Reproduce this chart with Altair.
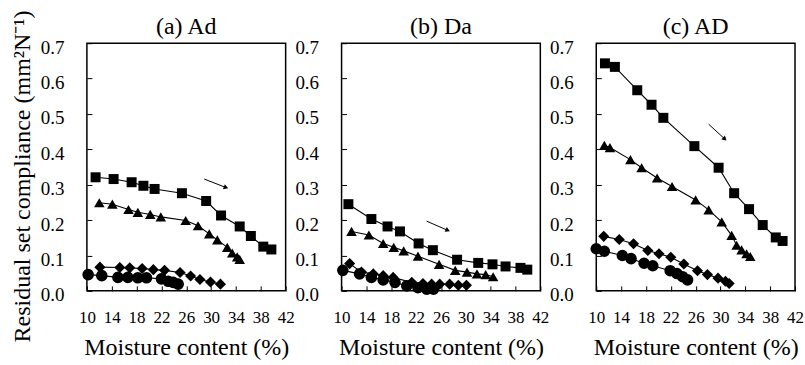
import math
import altair as alt
import pandas as pd

FONT = "Liberation Serif"

panel_titles = ["(a) Ad", "(b) Da", "(c) AD"]
series_names = ["sq", "tri", "dia", "cir"]

# ---- panel (a) Ad ----
a_sq_x = [11.4, 14.3, 17.2, 19.1, 20.9, 25.3, 29.2, 31.6, 34.6, 36.4, 38.4, 39.7]
a_sq_y = [0.321, 0.316, 0.307, 0.297, 0.288, 0.276, 0.254, 0.213, 0.182, 0.155, 0.125, 0.117]
a_tri_x = [12.0, 14.1, 16.7, 18.2, 20.2, 21.9, 25.9, 27.9, 29.7, 31.0, 32.6, 33.4, 34.2, 34.6]
a_tri_y = [0.249, 0.245, 0.230, 0.222, 0.216, 0.209, 0.199, 0.184, 0.161, 0.144, 0.123, 0.107, 0.096, 0.089]
a_dia_x = [12.1, 15.3, 16.9, 18.9, 20.7, 22.5, 25.0, 26.7, 28.2, 29.9, 31.5]
a_dia_y = [0.067, 0.066, 0.065, 0.063, 0.060, 0.058, 0.052, 0.042, 0.032, 0.025, 0.019]
a_cir_x = [10.2, 12.4, 15.0, 16.6, 18.2, 19.6, 22.0, 23.1, 23.9, 24.7]
a_cir_y = [0.046, 0.043, 0.038, 0.038, 0.037, 0.037, 0.034, 0.027, 0.024, 0.019]

# ---- panel (b) Da ----
b_sq_x = [11.1, 14.8, 17.4, 19.4, 22.4, 24.7, 28.6, 32.0, 34.3, 36.4, 38.8, 39.9]
b_sq_y = [0.245, 0.203, 0.182, 0.168, 0.134, 0.115, 0.088, 0.079, 0.075, 0.069, 0.065, 0.060]
b_tri_x = [11.6, 14.4, 16.7, 18.4, 20.0, 22.3, 25.7, 28.3, 30.2, 31.8, 33.2, 34.4]
b_tri_y = [0.168, 0.158, 0.134, 0.123, 0.113, 0.098, 0.075, 0.058, 0.053, 0.048, 0.046, 0.040]
b_dia_x = [11.3, 13.2, 15.1, 16.7, 18.3, 21.3, 23.1, 24.5, 25.8, 27.4, 28.8, 30.1]
b_dia_y = [0.077, 0.053, 0.048, 0.043, 0.038, 0.024, 0.021, 0.019, 0.019, 0.019, 0.016, 0.016]
b_cir_x = [10.2, 12.9, 14.8, 16.7, 18.6, 20.5, 22.3, 23.7, 24.8]
b_cir_y = [0.058, 0.048, 0.038, 0.031, 0.024, 0.014, 0.009, 0.005, 0.005]

# ---- panel (c) AD ----
c_sq_x = [11.4, 13.0, 16.6, 18.9, 20.8, 25.8, 29.7, 32.2, 34.6, 36.8, 38.9, 40.0]
c_sq_y = [0.643, 0.633, 0.567, 0.526, 0.489, 0.409, 0.348, 0.276, 0.231, 0.186, 0.151, 0.141]
c_tri_x = [11.3, 12.2, 15.5, 17.3, 19.8, 22.2, 26.0, 28.1, 30.2, 31.8, 32.6, 33.4, 34.2, 34.8]
c_tri_y = [0.411, 0.405, 0.371, 0.348, 0.319, 0.295, 0.257, 0.229, 0.195, 0.157, 0.129, 0.116, 0.105, 0.097]
c_dia_x = [11.2, 13.7, 16.0, 18.3, 20.1, 22.0, 24.1, 26.3, 27.9, 29.6, 30.8, 31.4]
c_dia_y = [0.154, 0.145, 0.133, 0.114, 0.105, 0.095, 0.076, 0.057, 0.046, 0.036, 0.027, 0.021]
c_cir_x = [10.0, 11.3, 14.2, 15.6, 17.7, 19.1, 21.9, 23.0, 23.9, 24.7]
c_cir_y = [0.119, 0.112, 0.100, 0.091, 0.078, 0.071, 0.057, 0.049, 0.040, 0.031]

# arrows (start x, start y, end x, end y) per panel
arrow_x1 = [28.9, 23.7, 28.1]
arrow_y1 = [0.316, 0.197, 0.471]
arrow_x2 = [32.4, 27.1, 30.7]
arrow_y2 = [0.292, 0.171, 0.429]

x_ticks = [10, 14, 18, 22, 26, 30, 34, 38, 42]
y_ticks = [0.0, 0.1, 0.2, 0.3, 0.4, 0.5, 0.6, 0.7]
XDOM = [10, 42]
YDOM = [0, 0.7]

W, H = 199, 248

panel_data = [
    [(a_sq_x, a_sq_y), (a_tri_x, a_tri_y), (a_dia_x, a_dia_y), (a_cir_x, a_cir_y)],
    [(b_sq_x, b_sq_y), (b_tri_x, b_tri_y), (b_dia_x, b_dia_y), (b_cir_x, b_cir_y)],
    [(c_sq_x, c_sq_y), (c_tri_x, c_tri_y), (c_dia_x, c_dia_y), (c_cir_x, c_cir_y)],
]


def make_panel(i):
    rows = []
    for name, (xs, ys) in zip(series_names, panel_data[i]):
        for xv, yv in zip(xs, ys):
            rows.append({"x": xv, "y": yv, "s": name})
    df = pd.DataFrame(rows)

    xaxis = alt.Axis(values=x_ticks, title="Moisture content (%)")
    if i == 0:
        yaxis = alt.Axis(values=y_ticks, format=".1f",
                         title="Residual set compliance (mm²N⁻¹)",
                         titlePadding=6, titleY=133)
    else:
        yaxis = alt.Axis(values=y_ticks, format=".1f", title=None)

    xs = alt.Scale(domain=XDOM, nice=False, zero=False)
    ys = alt.Scale(domain=YDOM, nice=False)

    lines = alt.Chart(df).mark_line(color="black", strokeWidth=1.1).encode(
        x=alt.X("x:Q", scale=xs, axis=xaxis),
        y=alt.Y("y:Q", scale=ys, axis=yaxis),
        detail="s:N",
    )
    points = alt.Chart(df).mark_point(filled=True, color="black", opacity=1).encode(
        x=alt.X("x:Q", axis=xaxis),
        y=alt.Y("y:Q", axis=yaxis),
        shape=alt.Shape("s:N", scale=alt.Scale(domain=series_names,
                        range=["square", "triangle-up", "diamond", "circle"]), legend=None),
        size=alt.Size("s:N", scale=alt.Scale(domain=series_names,
                      range=[100, 135, 110, 125]), legend=None),
    )

    adf = pd.DataFrame({"x": [arrow_x1[i]], "y": [arrow_y1[i]],
                        "x2": [arrow_x2[i]], "y2": [arrow_y2[i]]})
    dx = (arrow_x2[i] - arrow_x1[i]) * W / (XDOM[1] - XDOM[0])
    dy = (arrow_y1[i] - arrow_y2[i]) * H / (YDOM[1] - YDOM[0])
    ang = math.degrees(math.atan2(dy, dx)) % 360
    rule = alt.Chart(adf).mark_rule(color="black", strokeWidth=1).encode(
        x=alt.X("x:Q", axis=xaxis), y=alt.Y("y:Q", axis=yaxis), x2="x2:Q", y2="y2:Q")
    head = alt.Chart(adf).mark_point(shape="triangle-right", filled=True, color="black",
                                     opacity=1, size=28, angle=ang).encode(
        x=alt.X("x2:Q", axis=xaxis), y=alt.Y("y2:Q", axis=yaxis))

    one = pd.DataFrame({"t": [panel_titles[i]]})
    frame = alt.Chart(one).mark_rect(fillOpacity=0, stroke="black", strokeWidth=1.5).encode(
        x=alt.value(0), x2=alt.value(W), y=alt.value(0), y2=alt.value(H))
    title = alt.Chart(one).mark_text(font=FONT, fontSize=24, color="black",
                                     align="center", baseline="middle").encode(
        text="t:N", x=alt.value(W / 2), y=alt.value(-16))

    return alt.layer(lines, points, rule, head, frame, title).properties(width=W, height=H)


chart = alt.hconcat(
    make_panel(0), make_panel(1), make_panel(2), spacing=56, bounds="flush"
).configure_view(
    strokeWidth=0
).configure_axis(
    grid=False, domain=False, offset=-5, tickSize=5, tickColor="black",
    labelFont=FONT, titleFont=FONT, titleFontWeight="normal",
    labelColor="black", titleColor="black", labelOverlap=False, labelFlush=False,
    titleFontSize=24,
).configure_axisX(
    labelPadding=19, labelFontSize=17, titlePadding=10,
).configure_axisY(
    labelPadding=23, labelFontSize=19, labelOffset=4,
).properties(
    padding={"left": 10, "top": 9, "right": 1, "bottom": 5},
    background="white",
)

chart.save("out.html", embed_options={"renderer": "svg", "actions": False})
